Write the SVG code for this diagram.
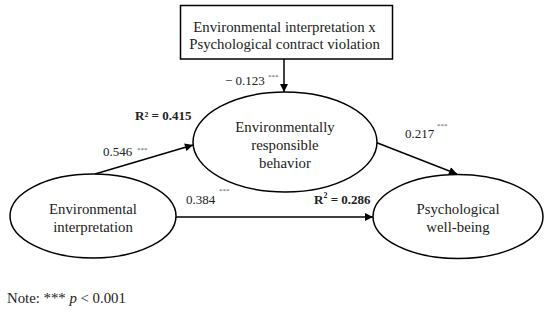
<svg xmlns="http://www.w3.org/2000/svg" width="550" height="312" viewBox="0 0 550 312">
<style>
text{font-family:"Liberation Serif","DejaVu Serif",serif;font-size:14.8px;fill:#222;}
.c{text-anchor:middle;}
.l{font-size:13px;}
.b{font-weight:bold;font-size:13px;}
.s{font-size:7px;fill:#555;}
.shape{fill:#fff;stroke:#000;stroke-width:1.5;}
.line{stroke:#000;stroke-width:1.5;fill:none;marker-end:url(#ah);}
</style>
<defs>
<marker id="ah" viewBox="0 0 10 10" refX="10" refY="5" markerWidth="9" markerHeight="8" markerUnits="userSpaceOnUse" orient="auto">
<path d="M0,0 L10,5 L0,10 z" fill="#000"/>
</marker>
</defs>
<rect width="550" height="312" fill="#fff"/>
<g id="connectors">
<line class="line" x1="284" y1="59" x2="284" y2="92"/>
<line class="line" x1="95" y1="174" x2="193" y2="145"/>
<line class="line" x1="176" y1="217" x2="373" y2="217"/>
<line class="line" x1="375" y1="142" x2="457" y2="174"/>
</g>
<g id="node-moderator">
<rect class="shape" x="180.5" y="5.5" width="212" height="53.5"/>
<text class="c" x="284.5" y="32">Environmental interpretation x</text>
<text class="c" x="284.5" y="49">Psychological contract violation</text>
</g>
<g id="node-erb">
<ellipse class="shape" cx="285" cy="142" rx="92" ry="50"/>
<text class="c" x="285" y="132">Environmentally</text>
<text class="c" x="285" y="150">responsible</text>
<text class="c" x="285" y="168">behavior</text>
</g>
<g id="node-ei">
<ellipse class="shape" cx="93" cy="216" rx="83" ry="42"/>
<text class="c" x="93" y="214">Environmental</text>
<text class="c" x="93" y="232">interpretation</text>
</g>
<g id="node-pwb">
<ellipse class="shape" cx="458" cy="216.5" rx="85" ry="42"/>
<text class="c" x="458" y="214">Psychological</text>
<text class="c" x="458" y="232">well-being</text>
</g>
<g id="labels">
<text class="l" x="225" y="85">− 0.123</text><text class="s" x="268" y="79">***</text>
<text class="b" x="135" y="120">R² = 0.415</text>
<text class="l" x="103" y="156">0.546</text><text class="s" x="137" y="152">***</text>
<text class="l" x="186" y="204">0.384</text><text class="s" x="219" y="193">***</text>
<text class="b" x="314" y="204">R<tspan font-size="8px" dy="-6">2</tspan><tspan dy="6"> = 0.286</tspan></text>
<text class="l" x="405" y="138">0.217</text><text class="s" x="437" y="128">***</text>
<text x="7" y="303" font-size="12.5px">Note: *** <tspan font-style="italic">p</tspan> &lt; 0.001</text>
</g>
</svg>
